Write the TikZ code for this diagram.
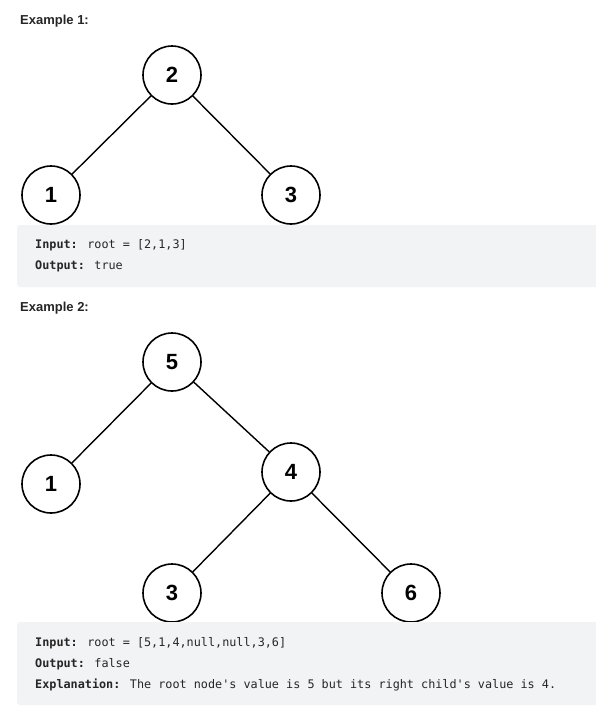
\documentclass[tikz,border=0pt]{standalone}
\usepackage{fontspec}
\setmainfont{Liberation Sans}
\newfontfamily\codefont{DejaVu Sans Mono}
\definecolor{ink}{HTML}{262626}
\definecolor{codebg}{HTML}{F2F3F4}
\begin{document}
\begin{tikzpicture}[x=1pt,y=-1pt,line cap=round,
  vert/.style={circle,draw=black,line width=1.6pt,minimum size=58pt,inner sep=0,
    font=\fontsize{22}{22}\selectfont\bfseries},
  edge/.style={black,line width=1.4pt},
  head/.style={anchor=west,inner sep=0,text=ink,font=\fontsize{13}{13}\selectfont\bfseries},
  code/.style={anchor=west,inner sep=0,text=ink,font=\codefont\fontsize{11.8}{12}\selectfont},
  codebox/.style={fill=codebg,rounded corners=3pt}]
 \useasboundingbox[fill=white] (0,0) rectangle (596,710);
 % example 1
 \node[head] (h1) at (20,21) {Example 1:};
 \node[vert] (a2) at (172,75) {2};
 \node[vert] (a1) at (51,195) {1};
 \node[vert] (a3) at (291,195) {3};
 \draw[edge] (a2) -- (a1);
 \draw[edge] (a2) -- (a3);
 \fill[codebox] (17,225) rectangle (600,287);
 \node[code] (in1) at (35,245) {\textbf{Input:} root = [2,1,3]};
 \node[code] (out1) at (35,266) {\textbf{Output:} true};
 % example 2
 \node[head] (h2) at (20,308) {Example 2:};
 \node[vert] (b5) at (172,362) {5};
 \node[vert] (b1) at (51,484) {1};
 \node[vert] (b4) at (291,472) {4};
 \node[vert] (b3) at (172,593) {3};
 \node[vert] (b6) at (411,593) {6};
 \foreach \p/\c in {b5/b1,b5/b4,b4/b3,b4/b6}
   \draw[edge] (\p) -- (\c);
 \fill[codebox] (17,622) rectangle (600,705);
 \node[code] (in2) at (35,643) {\textbf{Input:} root = [5,1,4,null,null,3,6]};
 \node[code] (out2) at (35,664) {\textbf{Output:} false};
 \node[code] (ex2) at (35,685) {\textbf{Explanation:} The root node's value is 5 but its right child's value is 4.};
\end{tikzpicture}
\end{document}
